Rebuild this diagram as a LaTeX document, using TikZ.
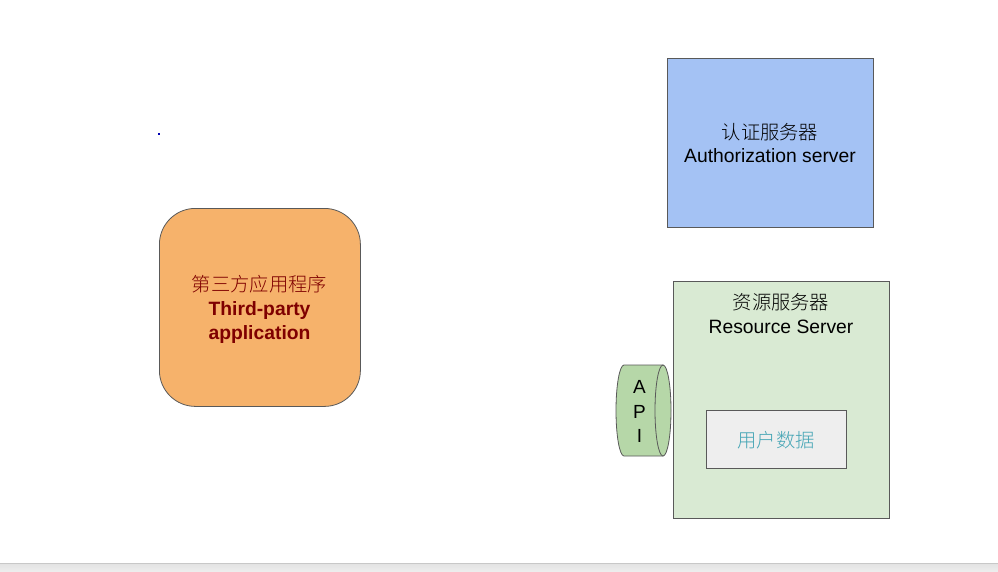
\documentclass[tikz,border=0pt]{standalone}
\usepackage{fontspec}
\setmainfont{Liberation Sans}
\newfontfamily\cjk{Noto Sans CJK SC Light}
\definecolor{authblue}{HTML}{A4C2F4}
\definecolor{apporange}{HTML}{F6B26B}
\definecolor{resgreen}{HTML}{D9EAD3}
\definecolor{apigreen}{HTML}{B6D7A8}
\definecolor{datagray}{HTML}{EEEEEE}
\definecolor{edge}{HTML}{595959}
\definecolor{darkred}{HTML}{7F0000}
\definecolor{tealtext}{HTML}{45A5B5}
\definecolor{bandtop}{HTML}{E2E2E2}
\definecolor{bandbot}{HTML}{EDEDED}
\definecolor{bandline}{HTML}{C8C8C8}
\tikzset{
  boxstyle/.style={draw=edge, line width=0.8pt, inner sep=0pt},
  lbl/.style={font=\fontsize{19.3}{24}\selectfont, align=center, inner sep=0pt},
}
\begin{document}
\begin{tikzpicture}[x=1pt,y=-1pt]
\useasboundingbox (0,0) rectangle (998,571);
\fill[white] (0,0) rectangle (998,571);
% bottom band
\shade[top color=bandtop, bottom color=bandbot] (0,563) rectangle (998,571);
\draw[bandline, line width=0.6pt] (0,563.3) -- (998,563.3);
% blue dot
\fill[blue!70!black] (158.2,133.2) rectangle (159.8,134.8);

% authorization server
\node[boxstyle, fill=authblue, minimum width=206pt, minimum height=169pt, anchor=north west] (auth) at (667,58) {};
\node[lbl] (authzh) at (770,132) {\cjk 认证服务器};
\node[lbl] (authen) at (770,156) {Authorization server};

% third-party app
\node[boxstyle, fill=apporange, rounded corners=36pt, minimum width=201pt, minimum height=198pt, anchor=north west] (app) at (159,208) {};
\node[lbl, text=darkred] (appzh) at (259.5,284.5) {\cjk 第三方应用程序};
\node[lbl, text=darkred, font=\fontsize{19.3}{24}\selectfont\bfseries] (appen) at (259.5,322.5) {Third-party\\application};

% resource server
\node[boxstyle, fill=resgreen, minimum width=216pt, minimum height=237pt, anchor=north west] (res) at (673,281) {};
\node[lbl] (reszh) at (781,302.5) {\cjk 资源服务器};
\node[lbl] (resen) at (781,327) {Resource Server};

% user data
\node[boxstyle, fill=datagray, minimum width=140pt, minimum height=58pt, anchor=north west] (data) at (706,410) {};
\node[lbl, text=tealtext] (datazh) at (776,440) {\cjk 用户数据};

% API cylinder
\filldraw[fill=apigreen, draw=edge, line width=0.8pt]
  (663,365) -- (624,365) arc[start angle=90, end angle=270, x radius=8pt, y radius=45.5pt]
  -- (663,456) -- cycle;
\filldraw[fill=apigreen, draw=edge, line width=0.8pt] (663,410.5) ellipse[x radius=8pt, y radius=45.5pt];
\node[lbl, font=\fontsize{19}{24.5}\selectfont] (api) at (639.5,411.5) {A\\P\\I};
\end{tikzpicture}
\end{document}
